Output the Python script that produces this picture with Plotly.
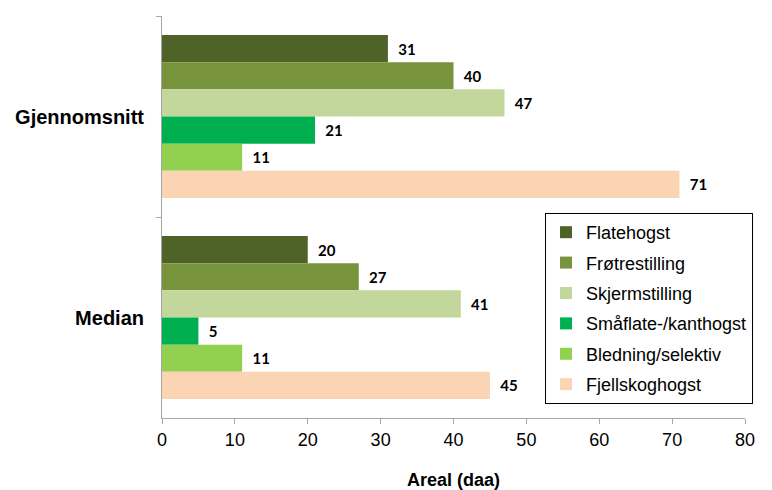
import plotly.graph_objects as go

# Harvest method areas (daa), mean and median
categories = ["Gjennomsnitt", "Median"]
methods = ["Flatehogst", "Frøtrestilling", "Skjermstilling",
           "Småflate-/kanthogst", "Bledning/selektiv", "Fjellskoghogst"]
mean_values = [31, 40, 47, 21, 11, 71]
median_values = [20, 27, 41, 5, 11, 45]
colors = ["#4F6228", "#77933C", "#C3D69B", "#00B050", "#92D050", "#FBD4B4"]
x_ticks = [0, 10, 20, 30, 40, 50, 60, 70, 80]

fig = go.Figure()
for i, name in enumerate(methods):
    vals = [mean_values[i], median_values[i]]
    fig.add_trace(go.Bar(
        y=categories,
        x=vals,
        name=name,
        orientation="h",
        marker=dict(color=colors[i], line=dict(width=0)),
        text=[f"  {v}" for v in vals],
        textposition="outside",
        textfont=dict(family="Lato", size=15, color="#000000", weight="bold"),
        cliponaxis=False,
        legendgroup=name,
    ))

fig.update_layout(
    width=772, height=490,
    margin=dict(l=162, r=27, t=16, b=72),
    paper_bgcolor="white", plot_bgcolor="white",
    barmode="group",
    bargap=0.19, bargroupgap=0,
    font=dict(family="Liberation Sans, Arial", color="#000000"),
    xaxis=dict(
        range=[0, 80], tickvals=x_ticks,
        automargin=False,
        showgrid=False, zeroline=False,
        showline=True, linecolor="#A6A6A6", linewidth=1,
        ticks="outside", ticklen=5, tickcolor="#A6A6A6",
        tickfont=dict(size=18),
        title=dict(text="<b>Areal (daa)</b>", font=dict(size=18), standoff=25),
    ),
    yaxis=dict(
        categoryorder="array", categoryarray=categories,
        autorange="reversed",
        automargin=False,
        showgrid=False, zeroline=False,
        showline=True, linecolor="#A6A6A6", linewidth=1,
        ticks="outside", ticklen=5, tickcolor="#A6A6A6",
        tickson="boundaries",
        tickfont=dict(size=20),
        ticklabelstandoff=13,
    ),
    legend=dict(
        x=0.657, y=0.51, xanchor="left", yanchor="top",
        bordercolor="#000000", borderwidth=1,
        font=dict(size=18),
        tracegroupgap=4,
        traceorder="grouped",
        entrywidth=185, entrywidthmode="pixels",
    ),
)
fig.update_yaxes(tickprefix="<b>", ticksuffix="</b>")

fig.write_html("out.html")
